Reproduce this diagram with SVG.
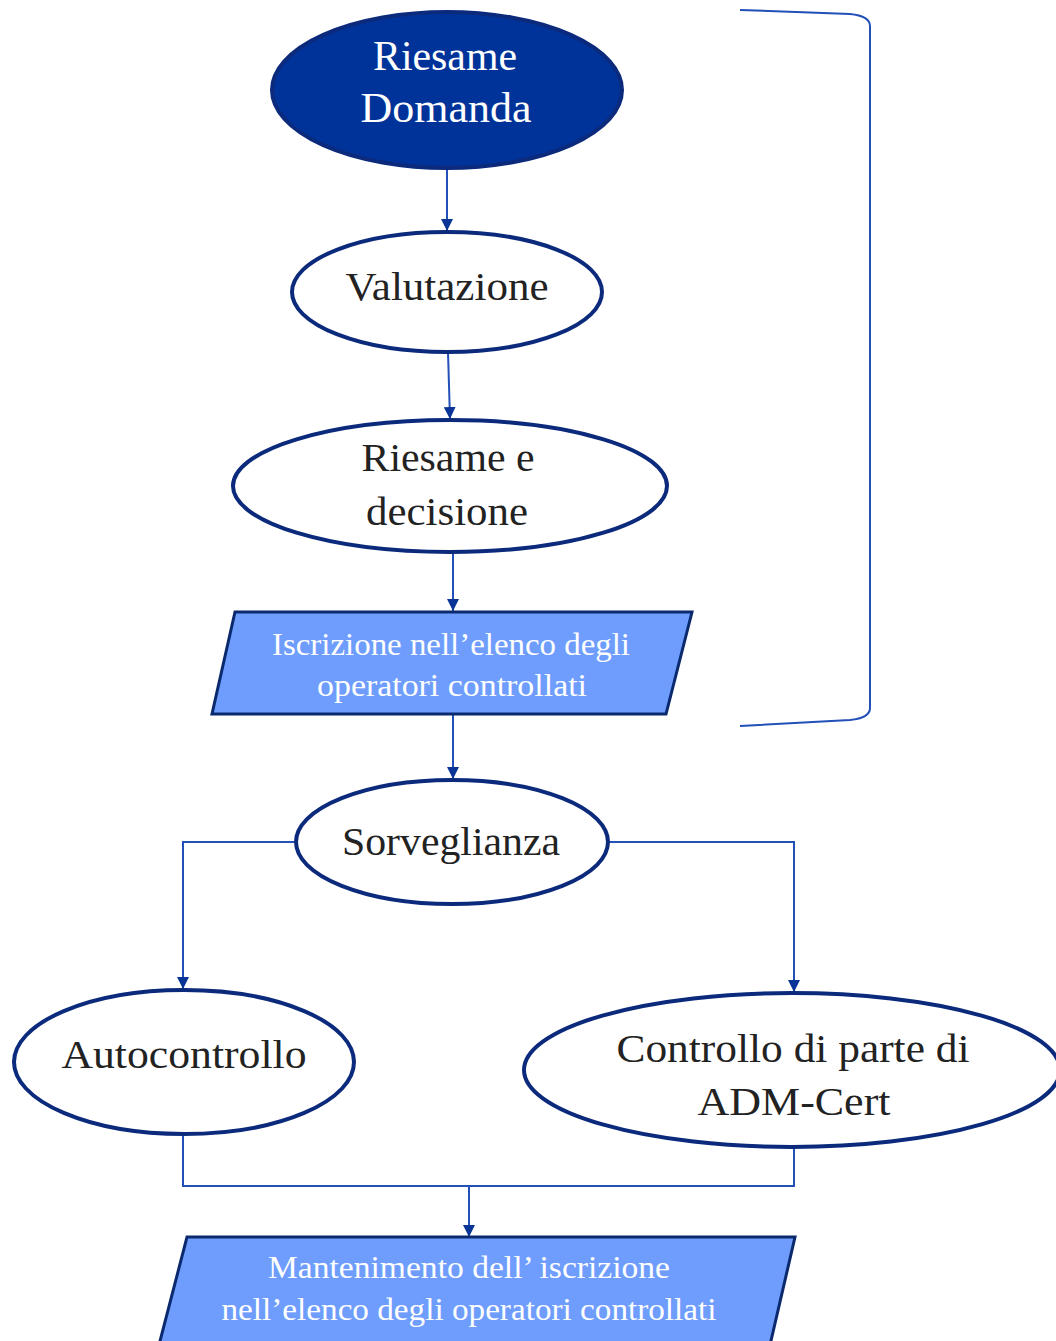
<svg xmlns="http://www.w3.org/2000/svg" width="1056" height="1341" viewBox="0 0 1056 1341">
<defs>
<marker id="ah" markerWidth="12" markerHeight="12" refX="12" refY="6" orient="auto" markerUnits="userSpaceOnUse" viewBox="0 0 12 12">
<path d="M0,0 L12,6 L0,12 Z" fill="#0a3596"/>
</marker>
<style>
.el{fill:#ffffff;stroke:#0b2a7c;stroke-width:4}
.elf{fill:#003399;stroke:#0b2a7c;stroke-width:4}
.para{fill:#6e9dfe;stroke:#0b2a6e;stroke-width:3}
.t{font-family:"Liberation Serif","DejaVu Serif",serif;fill:#222222;text-anchor:middle;font-size:41px}
.tw{font-family:"Liberation Serif","DejaVu Serif",serif;fill:#ffffff;text-anchor:middle;font-size:32px}
.tl{font-family:"Liberation Serif","DejaVu Serif",serif;fill:#ffffff;text-anchor:middle;font-size:42px}
.c{fill:none;stroke:#2150b8;stroke-width:2}
.ca{fill:none;stroke:#2150b8;stroke-width:2;marker-end:url(#ah)}
</style>
</defs>
<rect width="1056" height="1341" fill="#ffffff"/>
<g id="connectors">
<line class="ca" x1="447" y1="168" x2="447" y2="231"/>
<line class="ca" x1="448" y1="352" x2="450" y2="419"/>
<line class="ca" x1="453" y1="553" x2="453" y2="611"/>
<line class="ca" x1="453" y1="714" x2="453" y2="779"/>
<polyline class="ca" points="296,842 183,842 183,989"/>
<polyline class="ca" points="608,842 794,842 794,992"/>
<polyline class="c" points="183,1135 183,1186 794,1186 794,1148"/>
<line class="ca" x1="469" y1="1186" x2="469" y2="1237"/>
<path class="c" d="M740,10 L850,14 Q870,16 870,26 L870,708 Q870,718 850,720 L740,726"/>
</g>
<g id="n1">
<ellipse class="elf" cx="447" cy="90" rx="175" ry="78"/>
<text class="tl" x="445" y="70" textLength="144" lengthAdjust="spacingAndGlyphs">Riesame</text>
<text class="tl" x="446" y="122" textLength="171" lengthAdjust="spacingAndGlyphs">Domanda</text>
</g>
<g id="n2">
<ellipse class="el" cx="447" cy="292" rx="155" ry="60"/>
<text class="t" x="447" y="300" textLength="203" lengthAdjust="spacingAndGlyphs">Valutazione</text>
</g>
<g id="n3">
<ellipse class="el" cx="450" cy="486" rx="217" ry="66"/>
<text class="t" x="448" y="471" textLength="173" lengthAdjust="spacingAndGlyphs">Riesame e</text>
<text class="t" x="447" y="525" textLength="162" lengthAdjust="spacingAndGlyphs">decisione</text>
</g>
<g id="n4">
<polygon class="para" points="235,612 692,612 666,714 212,714"/>
<text class="tw" x="451" y="655" textLength="358" lengthAdjust="spacingAndGlyphs">Iscrizione nell’elenco degli</text>
<text class="tw" x="452" y="696" textLength="270" lengthAdjust="spacingAndGlyphs">operatori controllati</text>
</g>
<g id="n5">
<ellipse class="el" cx="452" cy="842" rx="156" ry="62"/>
<text class="t" x="451" y="855" textLength="218" lengthAdjust="spacingAndGlyphs">Sorveglianza</text>
</g>
<g id="n6">
<ellipse class="el" cx="184" cy="1062" rx="170" ry="72"/>
<text class="t" x="184" y="1068" textLength="245" lengthAdjust="spacingAndGlyphs">Autocontrollo</text>
</g>
<g id="n7">
<ellipse class="el" cx="792" cy="1070" rx="268" ry="77"/>
<text class="t" x="793" y="1062" textLength="353" lengthAdjust="spacingAndGlyphs">Controllo di parte di</text>
<text class="t" x="794" y="1115" textLength="193" lengthAdjust="spacingAndGlyphs">ADM-Cert</text>
</g>
<g id="n8">
<polygon class="para" points="187,1237 795,1237 770,1345 159,1345"/>
<text class="tw" x="469" y="1278" textLength="402" lengthAdjust="spacingAndGlyphs">Mantenimento dell’ iscrizione</text>
<text class="tw" x="469" y="1320" textLength="495" lengthAdjust="spacingAndGlyphs">nell’elenco degli operatori controllati</text>
</g>
</svg>
